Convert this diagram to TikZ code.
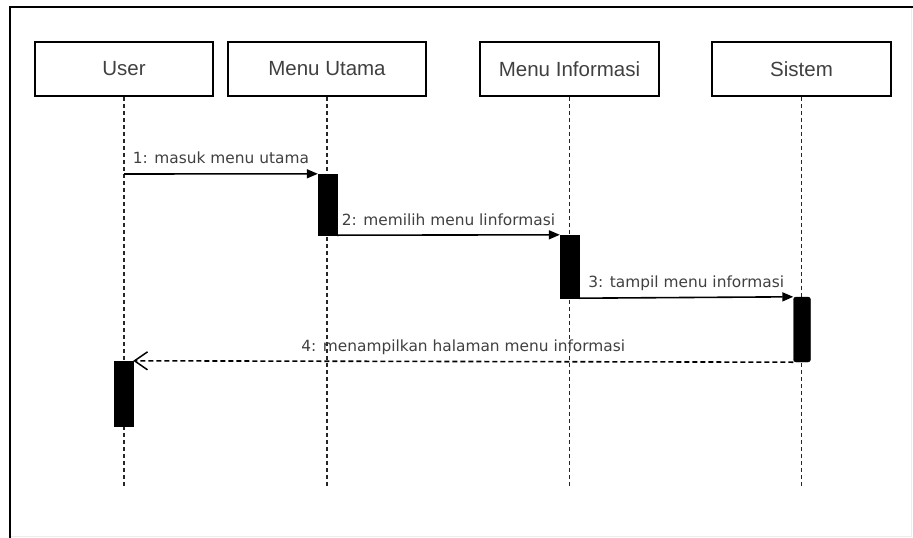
\documentclass[tikz,border=0pt]{standalone}
\usepackage{fontspec}
\setmainfont{Liberation Sans}
\newfontfamily\msgfont{DejaVu Sans}
\usetikzlibrary{arrows.meta}
\definecolor{txt}{RGB}{64,64,64}
\begin{document}
\begin{tikzpicture}[x=1pt,y=-1pt,
  actor/.style={draw=black, line width=1.7pt, minimum height=54pt, inner sep=0pt,
    text=txt, font=\fontsize{20.5}{24}\selectfont},
  lifeline/.style={line width=1.6pt, dash pattern=on 4pt off 3pt, draw=black!85},
  bar/.style={fill=black, draw=black, inner sep=0pt, minimum width=19pt},
  msg/.style={line width=1.6pt, -{Triangle[length=11pt,width=9pt]}},
  reply/.style={line width=1.6pt, dash pattern=on 5pt off 3pt,
    -{Straight Barb[length=13pt,width=18pt,line width=1.5pt]}},
  msglabel/.style={text=txt, font=\msgfont\fontsize{15.4}{18}\selectfont,
    anchor=base, inner sep=0pt, yshift=10pt}
]
\useasboundingbox (0,0) rectangle (913,538);

% outer frame
\draw[line width=0.6pt, black!7] (911,7) -- (911,536) -- (10,536);
\draw[line width=2pt] (10,538) -- (10,7) -- (913,7);

% participants
\node[actor, minimum width=178pt] (user) at (124,69) {User};
\node[actor, minimum width=198pt] (utama) at (327,69) {Menu Utama};
\node[actor, minimum width=179pt] (info) at (569.5,69) {Menu Informasi};
\node[actor, minimum width=179pt] (sistem) at (801.5,69) {Sistem};

% lifelines
\coordinate (userEnd) at (124,488);
\coordinate (utamaEnd) at (327,488);
\coordinate (infoEnd) at (569.5,488);
\coordinate (sistemEnd) at (801.5,488);
\draw[lifeline] (user.south) -- (userEnd);
\draw[lifeline] (utama.south) -- (utamaEnd);
\draw[lifeline] (info.south) -- (infoEnd);
\draw[lifeline] (sistem.south) -- (sistemEnd);

% activation bars
\node[bar, minimum height=61pt] (actUtama) at (327.5,204.5) {};
\node[bar, minimum height=63pt] (actInfo) at (569.5,266.5) {};
\node[bar, minimum height=65pt, minimum width=17pt, rounded corners=2.5pt] (actSistem) at (802,329.5) {};
\node[bar, minimum height=65pt] (actUser) at (123.5,393.5) {};

% messages
\coordinate (m1start) at (124,174);
\draw[msg] (m1start) -- (actUtama.north west)
  node[msglabel, midway] {1: masuk menu utama};
\draw[msg] (actUtama.south east) -- (actInfo.north west)
  node[msglabel, midway] {2: memilih menu linformasi};
\draw[msg] (actInfo.south east) -- (actSistem.north west)
  node[msglabel, midway] {3: tampil menu informasi};
\draw[reply] (actSistem.south west) -- (actUser.north east)
  node[msglabel, midway] {4: menampilkan halaman menu informasi};
\end{tikzpicture}
\end{document}
